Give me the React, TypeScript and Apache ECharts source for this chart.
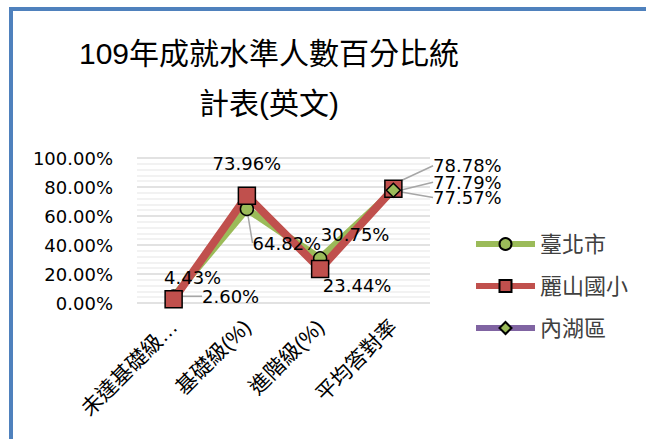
import React, { useEffect, useRef } from 'react';
import * as echarts from 'echarts';

const titleLines = ['109年成就水準人數百分比統', '計表(英文)'];
const categories = ['未達基礎級…', '基礎級(%)', '進階級(%)', '平均答對率'];
const seriesNames = ['臺北市', '麗山國小', '內湖區'];
const taipei = [4.43, 64.82, 30.75, 77.57];
const lishan = [2.6, 73.96, 23.44, 78.78];
const neihu: (number | null)[] = [null, null, null, 77.79];
const yMin = 0;
const yMax = 100;
const yStep = 20;

// label placement (offset from the point, and whether a leader line is drawn)
const labelPlacement: [number, number, boolean][][] = [
  [[19, -19, false], [40, 34, true], [35, -24, false], [74, 7, true]],
  [[57, -3, true], [0, -32, false], [37, 16, false], [74, -23, true]],
  [[0, 0, false], [0, 0, false], [0, 0, false], [74, -8, true]],
];

const NUM_FONT = "'DejaVu Sans', 'Noto Sans CJK TC', sans-serif";
const CJK_FONT = "'Liberation Sans', 'Noto Sans CJK TC', sans-serif";

function buildData(values: (number | null)[], s: number) {
  return values.map((v, i) => ({
    value: v,
    labelLine: { show: labelPlacement[s][i][2] },
  }));
}

export default function App() {
  const ref = useRef<HTMLDivElement>(null);
  useEffect(() => {
    if (!ref.current) return;
    const chart = echarts.init(ref.current, undefined, { renderer: 'svg' });
    const labelCfg = {
      show: true,
      position: 'inside',
      color: '#000',
      fontSize: 18,
      fontFamily: NUM_FONT,
      formatter: (p: any) => Number(p.value).toFixed(2) + '%',
    };
    const labelLineCfg = {
      show: false,
      lineStyle: { color: '#a6a6a6', width: 1.5 },
    };
    const option: any = {
      animation: false,
      backgroundColor: '#ffffff',
      graphic: [
        { type: 'rect', shape: { x: 9, y: 7, width: 637, height: 4 }, style: { fill: '#4f81bd' }, silent: true },
        { type: 'rect', shape: { x: 9, y: 7, width: 4, height: 432 }, style: { fill: '#4f81bd' }, silent: true },
        {
          type: 'text', x: 269, y: 53,
          style: { text: titleLines[0], fill: '#000', fontSize: 30, fontFamily: CJK_FONT, textAlign: 'center', textVerticalAlign: 'middle' },
        },
        {
          type: 'text', x: 269, y: 103,
          style: { text: titleLines[1], fill: '#000', fontSize: 30, fontFamily: CJK_FONT, textAlign: 'center', textVerticalAlign: 'middle' },
        },
      ],
      legend: {
        orient: 'vertical',
        left: 468,
        top: 228,
        itemWidth: 59,
        itemHeight: 15,
        itemGap: 20,
        lineStyle: { width: 6 },
        textStyle: { fontSize: 22, color: '#404040', fontFamily: CJK_FONT },
        data: seriesNames,
      },
      grid: { left: 137, right: 216, top: 158, bottom: 136, containLabel: false },
      xAxis: {
        type: 'category',
        data: categories,
        boundaryGap: true,
        axisLine: { show: false },
        axisTick: { show: false },
        axisLabel: {
          interval: 0,
          rotate: 45,
          margin: 20,
          fontSize: 21,
          color: '#000',
          fontFamily: CJK_FONT,
        },
      },
      yAxis: {
        type: 'value',
        min: yMin,
        max: yMax,
        interval: yStep,
        axisLine: { show: false },
        axisTick: { show: false },
        axisLabel: {
          margin: 24,
          fontSize: 18,
          color: '#000',
          fontFamily: NUM_FONT,
          formatter: (v: number) => v.toFixed(2) + '%',
        },
        splitLine: { show: true, lineStyle: { color: '#d9d9d9', width: 1.5 } },
        minorTick: { show: false, splitNumber: 5 },
        minorSplitLine: { show: true, lineStyle: { color: '#eeeeee', width: 1.5 } },
      },
      labelLayout: (params: any) => {
        const pl = labelPlacement[params.seriesIndex]?.[params.dataIndex];
        if (!pl) return {};
        return { dx: pl[0], dy: pl[1] };
      },
      series: [
        {
          name: seriesNames[0],
          type: 'line',
          data: buildData(taipei, 0),
          symbol: 'circle',
          symbolSize: 13,
          lineStyle: { color: '#9bbb59', width: 7 },
          itemStyle: { color: '#9bbb59', borderColor: '#000', borderWidth: 1.5 },
          label: labelCfg,
          labelLine: labelLineCfg,
        },
        {
          name: seriesNames[1],
          type: 'line',
          data: buildData(lishan, 1),
          symbol: 'rect',
          symbolSize: 17,
          lineStyle: { color: '#c0504d', width: 8 },
          itemStyle: { color: '#c0504d', borderColor: '#000', borderWidth: 1.5 },
          label: labelCfg,
          labelLine: labelLineCfg,
        },
        {
          name: seriesNames[2],
          type: 'line',
          data: buildData(neihu, 2),
          symbol: 'diamond',
          symbolSize: 14,
          connectNulls: false,
          lineStyle: { color: '#8064a2', width: 7 },
          itemStyle: { color: '#9bbb59', borderColor: '#000', borderWidth: 1.5 },
          label: labelCfg,
          labelLine: labelLineCfg,
        },
      ],
    };
    chart.setOption(option);
    return () => chart.dispose();
  }, []);
  return <div ref={ref} style={{ width: 646, height: 439, position: 'absolute', left: 0, top: 0 }} />;
}
